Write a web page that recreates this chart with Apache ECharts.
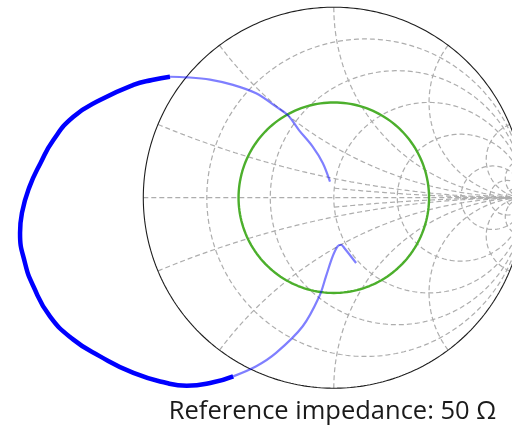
<!DOCTYPE html>
<html>
<head>
<meta charset="utf-8">
<script src="https://cdn.jsdelivr.net/npm/echarts@6/dist/echarts.min.js"></script>
<style>
  html, body { margin: 0; padding: 0; background: #ffffff; }
  #chart { width: 512px; height: 427px; }
</style>
</head>
<body>
<div id="chart"></div>
<script>
// ---- chart data (reflection coefficient) ----
const footerText = 'Reference impedance: 50 \u03A9';

// normalised resistance circles and reactance arcs of the grid
const resistanceValues = [0.2, 0.5, 1, 2, 5, 10, 20];
const reactanceValues = [0, 0.2, 0.5, 1, 2, 5, 10, 20];
// fine reactance arcs that start on the r = 1 circle
const fineReactanceValues = [0.1];
const fineReactanceStartR = 1;

// constant |Gamma| (VSWR) circle
const vswrGamma = 0.5;

// highlighted trace (thick, opaque)
const thickRe = [-0.860, -0.954, -1.052, -1.227, -1.367, -1.472, -1.540, -1.597, -1.637, -1.647, -1.621, -1.577, -1.490, -1.367, -1.227, -1.052, -0.877, -0.772, -0.633, -0.528];
const thickIm = [0.635, 0.618, 0.592, 0.513, 0.425, 0.303, 0.181, 0.058, -0.080, -0.185, -0.343, -0.465, -0.623, -0.745, -0.833, -0.920, -0.973, -0.987, -0.969, -0.938];

// remaining trace (thin, translucent), upper branch
const upperRe = [-0.860, -0.771, -0.650, -0.529, -0.408, -0.303, -0.242, -0.183, -0.111, -0.058, -0.020];
const upperIm = [0.635, 0.632, 0.620, 0.592, 0.548, 0.478, 0.434, 0.355, 0.268, 0.182, 0.084];

// remaining trace (thin, translucent), lower branch
const lowerRe = [-0.528, -0.407, -0.303, -0.163, -0.076, -0.041, -0.006, 0.020, 0.038, 0.055, 0.117];
const lowerIm = [-0.938, -0.885, -0.815, -0.675, -0.518, -0.413, -0.308, -0.255, -0.247, -0.264, -0.343];

// ---- helpers ----
function zToGamma(a, b) {
  const den = (a + 1) * (a + 1) + b * b;
  return [(a * a - 1 + b * b) / den, (2 * b) / den];
}
function circlePts(cx, cy, rad, n) {
  const pts = [];
  for (let i = 0; i <= n; i++) {
    const t = (i / n) * Math.PI * 2;
    pts.push([cx + rad * Math.cos(t), cy + rad * Math.sin(t)]);
  }
  return pts;
}
function reactancePts(x, rStart, n) {
  const pts = [];
  const t0 = Math.atan(rStart);
  for (let i = 0; i < n; i++) {
    const t = t0 + (i / n) * (Math.PI / 2 - t0);
    pts.push(zToGamma(Math.tan(t), x));
  }
  pts.push([1, 0]);
  return pts;
}
function zip(re, im) { return re.map((v, i) => [v, im[i]]); }

const gridStyle = { color: '#adadad', width: 1.2, type: [5, 3] };
const series = [];
resistanceValues.forEach(r => {
  series.push({
    type: 'line', data: circlePts(r / (1 + r), 0, 1 / (1 + r), 360),
    showSymbol: false, silent: true, lineStyle: gridStyle, z: 1
  });
});
reactanceValues.forEach(x => {
  const signs = x === 0 ? [1] : [1, -1];
  signs.forEach(s => {
    series.push({
      type: 'line', data: reactancePts(s * x, 0, 400),
      showSymbol: false, silent: true, lineStyle: gridStyle, z: 1
    });
  });
});
fineReactanceValues.forEach(x => {
  [1, -1].forEach(s => {
    series.push({
      type: 'line', data: reactancePts(s * x, fineReactanceStartR, 300),
      showSymbol: false, silent: true, lineStyle: gridStyle, z: 1
    });
  });
});
series.push({
  type: 'line', data: circlePts(0, 0, 1, 720), showSymbol: false, silent: true,
  lineStyle: { color: '#1e1e1e', width: 1.1 }, z: 2
});
series.push({
  type: 'line', data: circlePts(0, 0, vswrGamma, 360), showSymbol: false, silent: true,
  lineStyle: { color: '#4caf2c', width: 2.4 }, z: 3
});
series.push({
  type: 'line', data: zip(upperRe, upperIm), smooth: 0.35, showSymbol: false, silent: true,
  lineStyle: { color: 'rgba(0,0,255,0.5)', width: 2.2 }, z: 4
});
series.push({
  type: 'line', data: zip(lowerRe, lowerIm), smooth: 0.35, showSymbol: false, silent: true,
  lineStyle: { color: 'rgba(0,0,255,0.5)', width: 2.2 }, z: 4
});
series.push({
  type: 'line', data: zip(thickRe, thickIm), smooth: 0.5, showSymbol: false, silent: true,
  lineStyle: { color: '#0000ff', width: 4.5 }, z: 5
});

// layout: unit circle centre (333.8, 197.7), radius 190.5 px
const W = 512, H = 427, CX = 333.8, CY = 197.7, R = 190.5;

const chart = echarts.init(document.getElementById('chart'), null, { renderer: 'canvas' });
chart.setOption({
  animation: false,
  backgroundColor: '#ffffff',
  grid: { left: 0, right: 0, top: 0, bottom: 0 },
  xAxis: { type: 'value', min: -CX / R, max: (W - CX) / R, show: false },
  yAxis: { type: 'value', min: -(H - CY) / R, max: CY / R, show: false },
  graphic: [{
    type: 'text', x: 332.5, y: 412,
    style: {
      text: footerText, font: '25.5px "Open Sans", sans-serif', fill: '#1a1a1a',
      align: 'center', verticalAlign: 'middle', textAlign: 'center', textVerticalAlign: 'middle'
    }
  }],
  series: series
});
</script>
</body>
</html>
